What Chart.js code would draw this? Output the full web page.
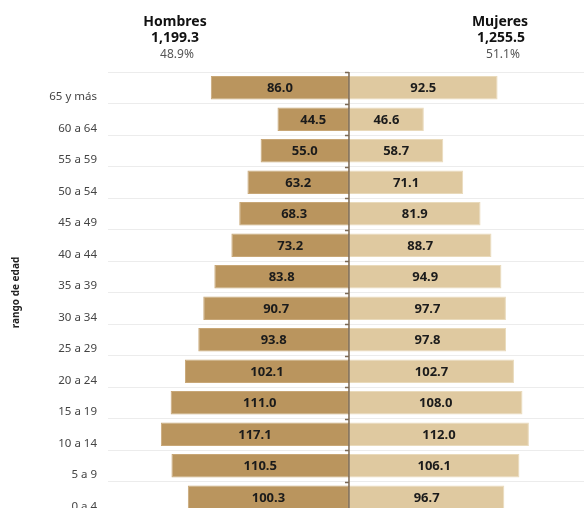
<!DOCTYPE html>
<html>
<head>
<meta charset="utf-8">
<script src="https://cdn.jsdelivr.net/npm/chart.js@4.4.1/dist/chart.umd.min.js"></script>
<style>
  html, body { margin: 0; padding: 0; background: #fff; overflow: hidden; }
  #wrap { position: relative; width: 584px; height: 513px; }
</style>
</head>
<body>
<div id="wrap"><canvas id="myChart"></canvas></div>
<script>
var grupos = ["65 y más", "60 a 64", "55 a 59", "50 a 54", "45 a 49", "40 a 44", "35 a 39",
  "30 a 34", "25 a 29", "20 a 24", "15 a 19", "10 a 14", "5 a 9", "0 a 4"];
var hombres = [86.0, 44.5, 55.0, 63.2, 68.3, 73.2, 83.8, 90.7, 93.8, 102.1, 111.0, 117.1, 110.5, 100.3];
var mujeres = [92.5, 46.6, 58.7, 71.1, 81.9, 88.7, 94.9, 97.7, 97.8, 102.7, 108.0, 112.0, 106.1, 96.7];
var totales = { hombres: "1,199.3", mujeres: "1,255.5" };
var porcentajes = { hombres: "48.9%", mujeres: "51.1%" };

var canvas = document.getElementById("myChart");

// etiquetas de valor dentro de cada barra + linea central
var etiquetas = {
  id: "etiquetas",
  afterDatasetsDraw: function (chart) {
    var ctx = chart.ctx;
    ctx.save();
    ctx.font = "bold 13px 'Noto Sans'";
    ctx.fillStyle = "#1b1b1b";
    ctx.textAlign = "center";
    ctx.textBaseline = "middle";
    chart.data.datasets.forEach(function (ds, i) {
      chart.getDatasetMeta(i).data.forEach(function (bar, j) {
        var cx = (bar.x + bar.base) / 2;
        ctx.fillText(Math.abs(ds.data[j]).toFixed(1), cx, bar.y + 1);
      });
    });

    var area = chart.chartArea;
    var x0 = chart.scales.x.getPixelForValue(0);
    var paso = (area.bottom - area.top) / grupos.length;
    ctx.strokeStyle = "#7c6a56";
    ctx.lineWidth = 1.5;
    ctx.beginPath();
    ctx.moveTo(x0, area.top);
    ctx.lineTo(x0, area.bottom);
    for (var k = 0; k <= grupos.length; k++) {
      var yy = Math.round(area.top + k * paso) + 0.5;
      ctx.moveTo(x0, yy);
      ctx.lineTo(x0 - 4, yy);
    }
    ctx.stroke();
    ctx.restore();
  }
};

// encabezados Hombres / Mujeres
var encabezado = {
  id: "encabezado",
  afterDraw: function (chart) {
    var ctx = chart.ctx;
    ctx.save();
    ctx.textAlign = "center";
    ctx.textBaseline = "middle";
    ctx.fillStyle = "#111";
    ctx.font = "bold 14px 'Noto Sans'";
    ctx.fillText("Hombres", 175, 22);
    ctx.fillText(totales.hombres, 175, 38);
    ctx.fillText("Mujeres", 500, 22);
    ctx.fillText(totales.mujeres, 501, 38);
    ctx.fillStyle = "#555";
    ctx.font = "12px 'Noto Sans'";
    ctx.fillText(porcentajes.hombres, 177, 55);
    ctx.fillText(porcentajes.mujeres, 503, 55);
    ctx.restore();
  }
};

var myChart = new Chart(canvas, {
  type: "bar",
  data: {
    labels: grupos,
    datasets: [
      {
        label: "Hombres",
        data: hombres.map(function (v) { return -v; }),
        backgroundColor: "#ba955e",
        borderColor: "#c8a777",
        borderWidth: 1,
        borderSkipped: false,
        barPercentage: 0.75,
        categoryPercentage: 1
      },
      {
        label: "Mujeres",
        data: mujeres,
        backgroundColor: "#dfc9a0",
        borderColor: "#e9dabb",
        borderWidth: 1,
        borderSkipped: false,
        barPercentage: 0.75,
        categoryPercentage: 1
      }
    ]
  },
  options: {
    indexAxis: "y",
    responsive: true,
    maintainAspectRatio: false,
    animation: false,
    layout: { padding: { top: 72, right: 0, bottom: 0, left: 0 } },
    plugins: {
      legend: { display: false },
      tooltip: { enabled: false }
    },
    scales: {
      x: {
        stacked: true,
        min: -150,
        max: 146.3,
        display: false
      },
      y: {
        stacked: true,
        afterFit: function (scale) {
          scale.width = 108;
          scale.paddingTop = 0;
          scale.paddingBottom = 0;
        },
        border: { display: false },
        grid: { offset: true, color: "#ececec", lineWidth: 1, drawTicks: false },
        ticks: {
          color: "#444",
          font: { family: "'Noto Sans'", size: 11.5 },
          padding: 11,
          labelOffset: 9
        },
        title: {
          display: true,
          text: "rango de edad",
          color: "#222",
          font: { family: "'Noto Sans'", size: 10, weight: "bold" },
          padding: { top: 10, bottom: 0 }
        }
      }
    }
  },
  plugins: [etiquetas, encabezado]
});
</script>
</body>
</html>
